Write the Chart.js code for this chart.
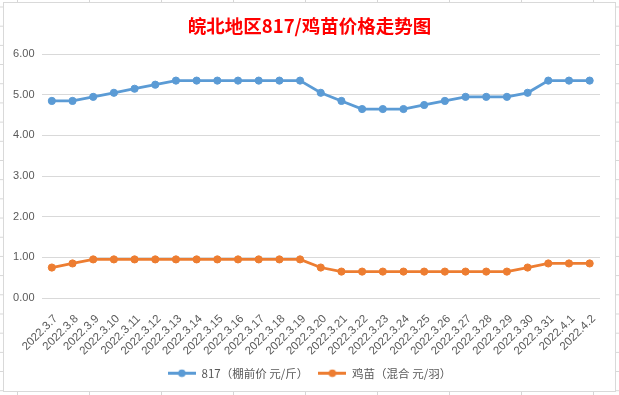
<!DOCTYPE html>
<html>
<head>
<meta charset="utf-8">
<script src="https://cdn.jsdelivr.net/npm/chart.js@4.4.0/dist/chart.umd.min.js"></script>
<style>
    body {
        margin: 0;
        width: 619px;
        height: 395px;
        overflow: hidden;
        background-color: #fff;
        /* 엑셀 셀 격자 */
        background-image: linear-gradient(to right, #d6d6d6 1px, transparent 1px),
                          linear-gradient(to bottom, #d6d6d6 1px, transparent 1px);
        background-size: 72px 19.2px;
        background-position: 17px 6.5px;
    }
    .chart_box {
        position: absolute;
        left: 3px;
        top: 2px;
        width: 611px;
        height: 388px;
        border: 1px solid #d9d9d9;
        background: #fff;
    }
</style>
</head>
<body>
<div class="chart_box"><canvas id="priceChart"></canvas></div>
<script>
// data
var dates = ["2022.3.7", "2022.3.8", "2022.3.9", "2022.3.10", "2022.3.11", "2022.3.12", "2022.3.13",
    "2022.3.14", "2022.3.15", "2022.3.16", "2022.3.17", "2022.3.18", "2022.3.19", "2022.3.20",
    "2022.3.21", "2022.3.22", "2022.3.23", "2022.3.24", "2022.3.25", "2022.3.26", "2022.3.27",
    "2022.3.28", "2022.3.29", "2022.3.30", "2022.3.31", "2022.4.1", "2022.4.2"];
var price817 = [4.85, 4.85, 4.95, 5.05, 5.15, 5.25, 5.35, 5.35, 5.35, 5.35, 5.35, 5.35, 5.35, 5.05,
    4.85, 4.65, 4.65, 4.65, 4.75, 4.85, 4.95, 4.95, 4.95, 5.05, 5.35, 5.35, 5.35];
var priceChick = [0.75, 0.85, 0.95, 0.95, 0.95, 0.95, 0.95, 0.95, 0.95, 0.95, 0.95, 0.95, 0.95, 0.75,
    0.65, 0.65, 0.65, 0.65, 0.65, 0.65, 0.65, 0.65, 0.65, 0.75, 0.85, 0.85, 0.85];
var yTicks = [0, 1, 2, 3, 4, 5, 6];

var blue = "#5b9bd5";
var orange = "#ed7d31";
var grey = "#595959";
var gridColor = "#d9d9d9";

// legend marker (line + dot)
function legendMark(color) {
    var c = document.createElement("canvas");
    c.width = 28;
    c.height = 9;
    var g = c.getContext("2d");
    g.strokeStyle = color;
    g.lineWidth = 3;
    g.beginPath();
    g.moveTo(0, 4.5);
    g.lineTo(28, 4.5);
    g.stroke();
    g.fillStyle = color;
    g.beginPath();
    g.arc(14, 4.5, 3.8, 0, Math.PI * 2);
    g.fill();
    return c;
}
var marks = [legendMark(blue), legendMark(orange)];

var ctx = document.getElementById("priceChart");
var priceChart = new Chart(ctx, {
    type: "line",
    data: {
        labels: dates,
        datasets: [{
            label: "817（棚前价 元/斤）",
            data: price817,
            borderColor: blue,
            backgroundColor: blue,
            pointBackgroundColor: blue,
            borderWidth: 2.8,
            pointRadius: 3.6,
            pointBorderWidth: 1
        }, {
            label: "鸡苗（混合 元/羽）",
            data: priceChick,
            borderColor: orange,
            backgroundColor: orange,
            pointBackgroundColor: orange,
            borderWidth: 2.8,
            pointRadius: 3.6,
            pointBorderWidth: 1
        }]
    },
    options: {
        responsive: true,
        maintainAspectRatio: false,
        animation: false,
        layout: {
            padding: {top: 0, left: 0, right: 0, bottom: 2}
        },
        plugins: {
            title: {
                display: true,
                text: "皖北地区817/鸡苗价格走势图",
                color: "#ff0000",
                font: {family: "'Noto Sans CJK SC'", size: 18.5, weight: "bold"},
                padding: {top: 11.5, bottom: 17.5}
            },
            legend: {
                position: "bottom",
                labels: {
                    color: grey,
                    font: {family: "'Noto Sans CJK SC'", size: 11.5},
                    usePointStyle: true,
                    pointStyleWidth: 28,
                    padding: 10,
                    generateLabels: function(chart) {
                        var items = Chart.defaults.plugins.legend.labels.generateLabels(chart);
                        items.forEach(function(item, i) {
                            item.pointStyle = marks[i];
                        });
                        return items;
                    }
                }
            },
            tooltip: {enabled: false}
        },
        scales: {
            x: {
                offset: true,
                grid: {display: false},
                border: {display: false},
                ticks: {
                    color: grey,
                    font: {family: "'Liberation Sans'", size: 11.5},
                    minRotation: 45,
                    maxRotation: 45,
                    autoSkip: false,
                    padding: 6,
                    labelOffset: 4
                },
                afterFit: function(scale) {
                    scale.height = 59.5;
                }
            },
            y: {
                min: yTicks[0],
                max: yTicks[yTicks.length - 1],
                afterBuildTicks: function(scale) {
                    scale.ticks = yTicks.map(function(v) { return {value: v}; });
                },
                grid: {color: gridColor, drawTicks: false, lineWidth: 1},
                border: {display: false},
                ticks: {
                    color: grey,
                    font: {family: "'Liberation Sans'", size: 11},
                    padding: 7,
                    callback: function(v) { return v.toFixed(2); }
                },
                afterFit: function(scale) {
                    scale.width = 37.5;
                }
            },
            // 오른쪽 여백용 빈 축
            yRight: {
                position: "right",
                display: true,
                grid: {display: false},
                border: {display: false},
                ticks: {display: false},
                afterFit: function(scale) {
                    scale.width = 15;
                }
            }
        }
    }
});
</script>
</body>
</html>
